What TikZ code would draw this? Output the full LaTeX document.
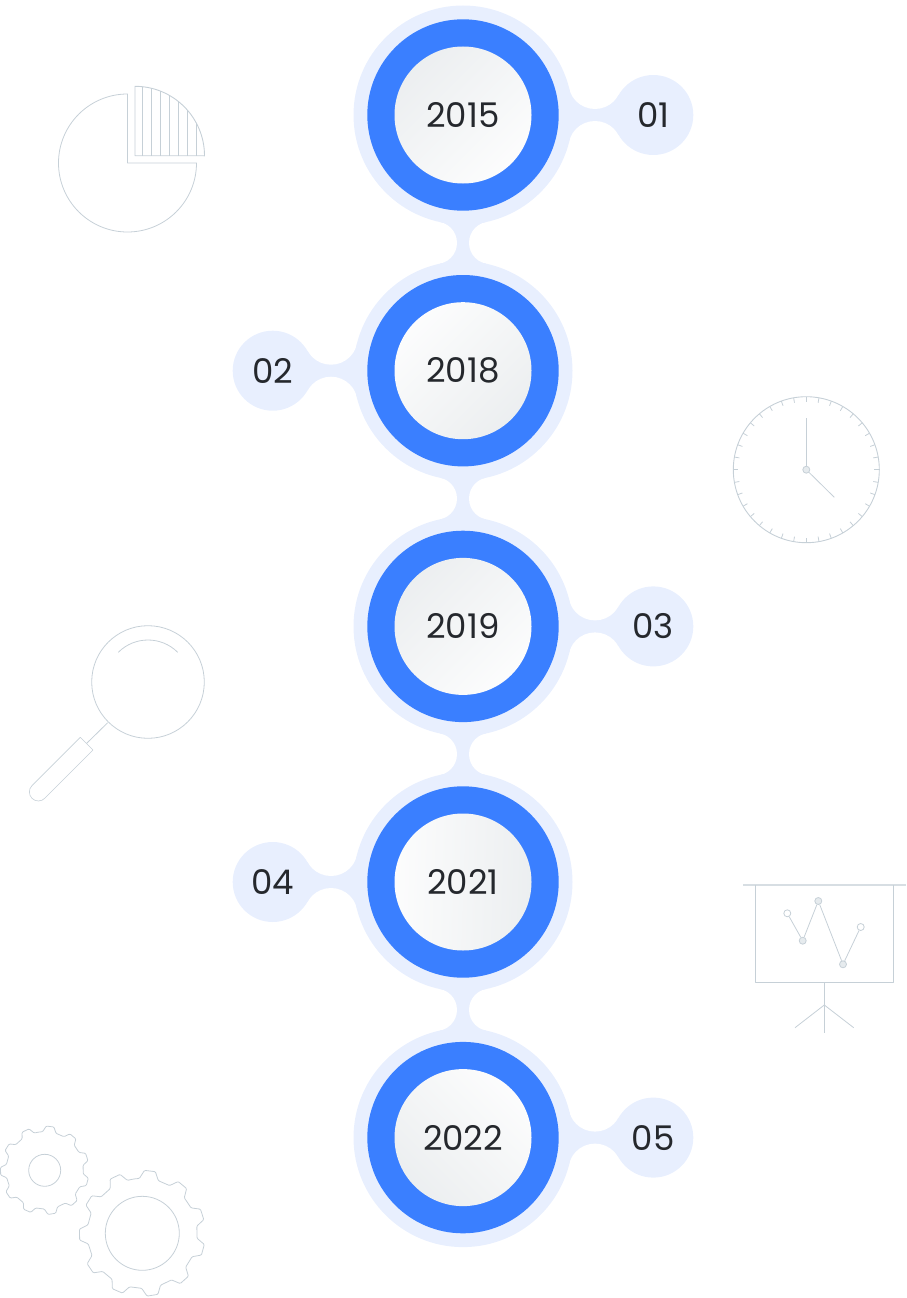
\documentclass[tikz,border=0pt]{standalone}
\usepackage{fontspec}
\setmainfont{Poppins}
\usetikzlibrary{backgrounds,calc}
\definecolor{haze}{HTML}{E8EFFE}
\definecolor{ringblue}{HTML}{3A7FFF}
\definecolor{faceshade}{HTML}{E9ECEE}
\definecolor{inkdark}{HTML}{25282D}
\definecolor{iconline}{HTML}{C6D0D7}
\definecolor{icondot}{HTML}{E6EBEE}
\pgfdeclareverticalshading{facefade}{100bp}{color(0bp)=(white); color(16bp)=(white); color(84bp)=(faceshade); color(100bp)=(faceshade)}
\tikzset{
    halo/.style={circle,fill=haze,minimum size=219,inner sep=0,outer sep=0},
    ring/.style={circle,fill=ringblue,minimum size=191.4,inner sep=0,outer sep=0},
    face/.style={circle,shading=facefade,shading angle=#1,minimum size=137,
        inner sep=0,outer sep=0,text=inkdark,font=\fontsize{34}{34}\selectfont},
    numdisc/.style={circle,fill=haze,minimum size=80,inner sep=0,outer sep=0,
        text=inkdark,font=\fontsize{34}{34}\selectfont},
    icon/.style={draw=iconline,line width=0.8,line join=round},
    whitedot/.style={circle,draw=iconline,fill=white,line width=0.8,minimum size=7,inner sep=0},
    greydot/.style={circle,draw=iconline,fill=icondot,line width=0.8,minimum size=7,inner sep=0},
}
\begin{document}
\begin{tikzpicture}[x=1pt,y=-1pt]
    \useasboundingbox (0,0) rectangle (907,1298);
    % timeline discs
    \node[halo] (halo1) at (463,115) {};
    \node[halo] (halo2) at (463,370.7) {};
    \node[halo] (halo3) at (463,626.4) {};
    \node[halo] (halo4) at (463,882) {};
    \node[halo] (halo5) at (463,1137.6) {};
    \node[numdisc] (num1) at (653.3,115) {01};
    \node[numdisc] (num2) at (272.7,370.7) {02};
    \node[numdisc] (num3) at (653.3,626.4) {03};
    \node[numdisc] (num4) at (272.7,882) {04};
    \node[numdisc] (num5) at (653.3,1137.6) {05};
    \node[ring] (ring1) at (halo1) {};
    \node[ring] (ring2) at (halo2) {};
    \node[ring] (ring3) at (halo3) {};
    \node[ring] (ring4) at (halo4) {};
    \node[ring] (ring5) at (halo5) {};
    \node[face=45] (year1) at (halo1) {2015};
    \node[face=225] (year2) at (halo2) {2018};
    \node[face=45] (year3) at (halo3) {2019};
    \node[face=268] (year4) at (halo4) {2021};
    \node[face=135] (year5) at (halo5) {2022};
    % necks, hollowed by white circles
    \begin{pgfonlayer}{background}
        \foreach \from/\to/\side in {halo1/num1/1,halo2/num2/-1,halo3/num3/1,halo4/num4/-1,halo5/num5/1}{
            \fill[haze] (\from.center) -- ([shift={(\side*132,-32.7)}]\from.center) -- (\to.center)
                -- ([shift={(\side*132,32.7)}]\from.center) -- cycle;
            \fill[white] ([shift={(\side*132,-32.7)}]\from.center) circle (26.7);
            \fill[white] ([shift={(\side*132,32.7)}]\from.center) circle (26.7);
        }
        \foreach \from/\to in {halo1/halo2,halo2/halo3,halo3/halo4,halo4/halo5}{
            \coordinate (mid) at ($(\from)!0.5!(\to)$);
            \fill[haze] (\from.center) -- ([xshift=-27.2]mid) -- (\to.center) -- ([xshift=27.2]mid) -- cycle;
            \fill[white] ([xshift=-27.2]mid) circle (21.2);
            \fill[white] ([xshift=27.2]mid) circle (21.2);
        }
    \end{pgfonlayer}
    % pie
    \draw[icon] (127.5,94) arc (-90:-360:69) -- (127.5,163) -- cycle;
    \draw[icon,line width=0.9] (135,86.3) arc (-90:0:69.5) -- (135,155.7) -- cycle;
    \foreach \hx in {7.3,16.3,25.3,34.3,43.3,52.3,61.3}{
        \draw[icon] (135+\hx,155.7) -- ({135+\hx},{155.7-sqrt(69.5*69.5-\hx*\hx)});
    }
    % clock
    \draw[icon,line width=0.9] (806.3,469.7) circle (73);
    \foreach \tick in {0,10,...,350}{
        \draw[icon] ($(806.3,469.7)+(\tick:73)$) -- ($(806.3,469.7)+(\tick:68)$);
    }
    \node[greydot] (hub) at (806.3,469.7) {};
    \coordinate (longtip) at (806.3,418.3);
    \coordinate (shorttip) at (834.3,497.3);
    \draw[icon,line width=0.9] (hub) -- (longtip);
    \draw[icon] (hub) -- (shorttip);
    % magnifier
    \draw[icon] (148,682) circle (56.3);
    \draw[icon] (118.3,652.3) arc (-135:-45:42);
    \draw[icon] (107.7,722.7) -- (86.7,743.3);
    \draw[icon,line width=0.6] (80.3,737.3) -- (32,785.6) arc (225:45:9) -- (93,750) -- cycle;
    % chart board
    \draw[icon,draw=iconline!70,line width=1.2] (743.3,885) -- (905.7,885);
    \draw[icon,line width=0.9] (755,885) -- (755,982) -- (893.7,982) -- (893.7,885);
    \draw[icon] (824.3,982) -- (824.3,1033.3);
    \draw[icon] (795,1027.7) -- (824.3,1005) -- (853.7,1027.7);
    \node[whitedot] (pt1) at (787.3,913.3) {};
    \node[greydot] (pt2) at (802.7,940.7) {};
    \node[greydot] (pt3) at (818.3,901) {};
    \node[greydot] (pt4) at (843,964.3) {};
    \node[whitedot] (pt5) at (860.7,927) {};
    \draw[icon] (pt1) -- (pt2);
    \draw[icon] (pt2) -- (pt3);
    \draw[icon] (pt3) -- (pt4);
    \draw[icon] (pt4) -- (pt5);
    % gears
    \foreach \gx/\gy/\gout/\groot/\ghole in {44.7/1170.3/44.3/38.7/16,142.3/1233.3/63/55/37}{
        \draw[icon,rounded corners=1] ($(\gx,\gy)+(-99.4:\groot)$)
            \foreach \k in {0,...,10}{
                -- ($(\gx,\gy)+(-93+32.73*\k:\groot)$)
                -- ($(\gx,\gy)+(-88+32.73*\k:\gout)$)
                -- ($(\gx,\gy)+(-78+32.73*\k:\gout)$)
                -- ($(\gx,\gy)+(-73+32.73*\k:\groot)$)
            } -- cycle;
        \draw[icon] (\gx,\gy) circle (\ghole);
    }
\end{tikzpicture}
\end{document}
